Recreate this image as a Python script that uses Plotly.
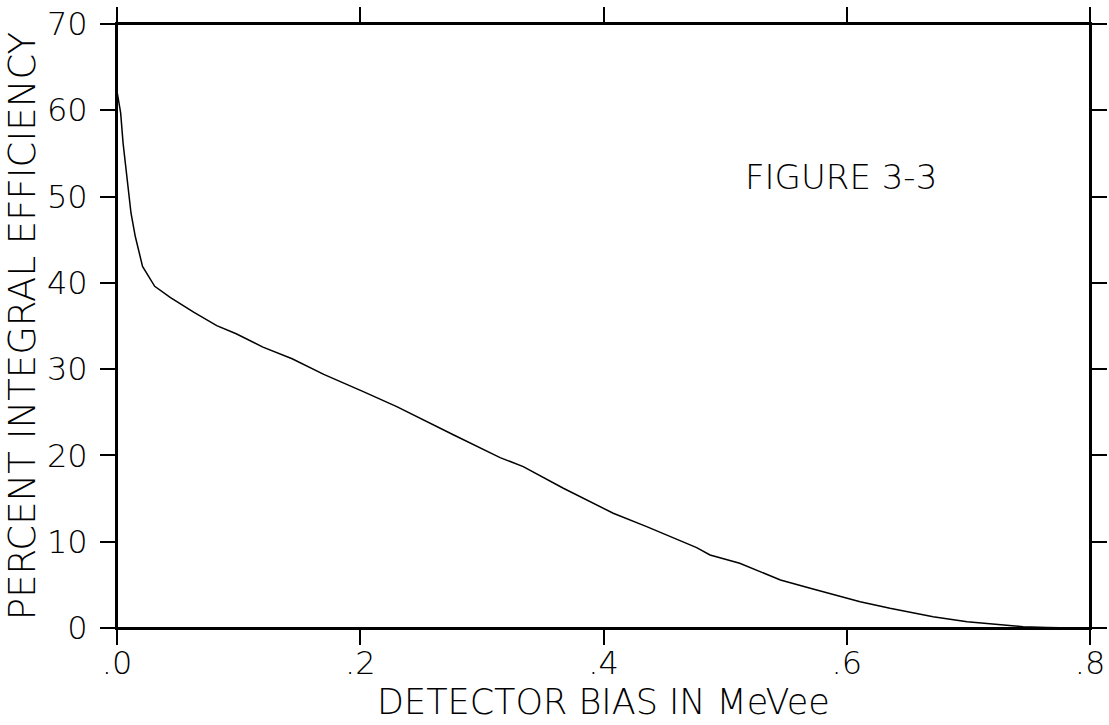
import plotly.graph_objects as go

# ---- data ----
bias_mevee = [0.0, 0.003, 0.005, 0.008, 0.0115, 0.015, 0.021, 0.031, 0.044, 0.063,
              0.082, 0.098, 0.120, 0.144, 0.170, 0.2025, 0.230, 0.2765, 0.315, 0.334,
              0.367, 0.408, 0.4355, 0.4766, 0.4876, 0.512, 0.5455, 0.570, 0.5945, 0.611,
              0.6355, 0.671, 0.699, 0.726, 0.745, 0.765, 0.785]
efficiency_pct = [62.2, 59.7, 56.2, 52.3, 48.1, 45.4, 41.9, 39.6, 38.3, 36.6,
                  35.05, 34.1, 32.55, 31.2, 29.4, 27.4, 25.66, 22.4, 19.75, 18.7,
                  16.2, 13.3, 11.75, 9.31, 8.46, 7.5, 5.57, 4.6, 3.63, 3.05,
                  2.28, 1.31, 0.73, 0.35, 0.15, 0.05, 0.0]

x_tickvals = [0.0, 0.2, 0.4, 0.6, 0.8]
x_ticktext = [".0", ".2", ".4", ".6", ".8"]
y_tickvals = [0, 10, 20, 30, 40, 50, 60, 70]
y_ticktext = ["0", "10", "20", "30", "40", "50", "60", "70"]

x_title = "DETECTOR BIAS IN MeVee"
y_title = "PERCENT INTEGRAL EFFICIENCY"
figure_label = "FIGURE 3-3"
label_x, label_y = 0.595, 52.3

# ---- layout constants ----
W, H = 1109, 725
ML, MR, MT, MB = 117, 19, 24, 97
TICKLEN = 15
FONT = "DejaVu Sans"

fig = go.Figure()
fig.add_trace(go.Scatter(x=bias_mevee, y=efficiency_pct, mode="lines",
                         line=dict(color="black", width=1.5), showlegend=False,
                         hoverinfo="skip"))

axis_common = dict(showgrid=False, zeroline=False, showline=True, linecolor="black",
                   linewidth=2, ticks="outside", ticklen=TICKLEN, tickwidth=2,
                   tickcolor="black", mirror="ticks", automargin=False,
                   tickfont=dict(family=FONT, size=32, color="black", weight=200))

fig.update_xaxes(range=[0, 0.8], tickmode="array", tickvals=x_tickvals,
                 ticktext=x_ticktext, ticklabelstandoff=-9,
                 title=dict(text=x_title, standoff=8,
                            font=dict(family=FONT, size=35, color="black", weight=200)),
                 **axis_common)
fig.update_yaxes(range=[0, 70], tickmode="array", tickvals=y_tickvals,
                 ticktext=y_ticktext, ticklabelstandoff=6,
                 title=dict(text=y_title, standoff=0,
                            font=dict(family=FONT, size=37, color="black", weight=200)),
                 **axis_common)

# extend the frame lines beyond the plot area like the plotter output
pw = W - ML - MR
ph = H - MT - MB
ex = TICKLEN / pw
ey = TICKLEN / ph
line = dict(color="black", width=2)
for yy in (0, 1):
    fig.add_shape(type="line", xref="x domain", yref="y domain",
                  x0=-ex, x1=1 + ex, y0=yy, y1=yy, line=line)
for xx in (0, 1):
    fig.add_shape(type="line", xref="x domain", yref="y domain",
                  x0=xx, x1=xx, y0=-ey, y1=1 + ey, line=line)

fig.add_annotation(x=label_x, y=label_y, xref="x", yref="y", text=figure_label,
                   showarrow=False,
                   font=dict(family=FONT, size=34, color="black", weight=200))

fig.update_layout(width=W, height=H, margin=dict(l=ML, r=MR, t=MT, b=MB),
                  paper_bgcolor="white", plot_bgcolor="white")

fig.write_html("out.html")
